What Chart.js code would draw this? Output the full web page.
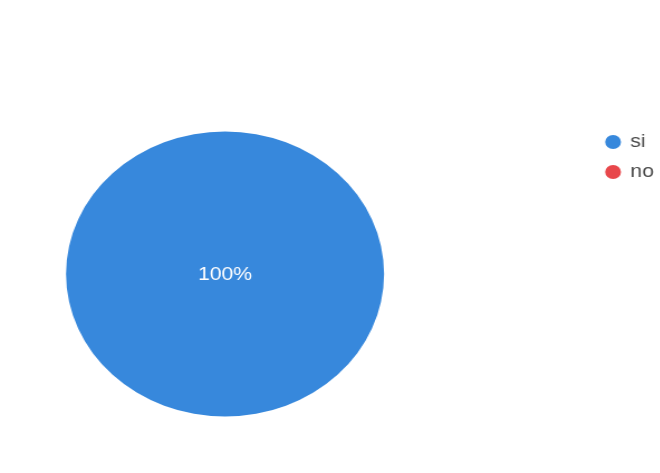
<!DOCTYPE html>
<html>
<head>
<meta charset="utf-8">
<script src="https://cdn.jsdelivr.net/npm/chart.js@4.4.1/dist/chart.umd.min.js"></script>
<style>
  html, body { margin: 0; padding: 0; background: #ffffff; overflow: hidden; }
  body { width: 660px; height: 473px; position: relative; }
  /* the scanned pie is a little wider than tall, so stretch the canvas sideways */
  #wrap {
    position: absolute; left: -144.5px; top: 0;
    width: 730px; height: 473px;
    transform: scaleX(1.116); transform-origin: 0 0;
  }
</style>
</head>
<body>
<div id="wrap"><canvas id="respuestas"></canvas></div>
<script>
// Datos
const etiquetas = ['si', 'no'];
const valores = [100, 0]; // porcentajes
const colores = ['#3788dc', '#e8474b'];

// Porcentaje dentro de cada porcion (100% va al centro)
const etiquetaPorcentaje = {
  id: 'etiquetaPorcentaje',
  afterDatasetsDraw(chart) {
    const ctx = chart.ctx;
    const meta = chart.getDatasetMeta(0);
    const total = valores.reduce((a, b) => a + b, 0);
    ctx.save();
    ctx.fillStyle = '#ffffff';
    ctx.font = '19px "Liberation Sans", Arial, sans-serif';
    ctx.textAlign = 'center';
    ctx.textBaseline = 'middle';
    meta.data.forEach((arco, i) => {
      const v = valores[i];
      if (!v) return;
      const pct = Math.round(v / total * 100);
      let pos = arco.tooltipPosition();
      if (pct === 100) pos = { x: arco.x, y: arco.y };
      ctx.fillText(pct + '%', pos.x, pos.y + 1);
    });
    ctx.restore();
  }
};

const ctx = document.getElementById('respuestas').getContext('2d');
const grafico = new Chart(ctx, {
  type: 'pie',
  data: {
    labels: etiquetas,
    datasets: [{
      data: valores,
      backgroundColor: colores,
      borderWidth: 0,
      radius: 142.5
    }]
  },
  options: {
    responsive: true,
    maintainAspectRatio: false,
    animation: false,
    layout: {
      padding: { left: 0, right: 5, top: 121.5, bottom: 46.5 }
    },
    plugins: {
      legend: {
        position: 'right',
        align: 'start',
        labels: {
          usePointStyle: true,
          pointStyle: 'circle',
          boxWidth: 12,
          boxHeight: 10,
          padding: 11,
          color: '#4a4a4a',
          font: { family: '"Liberation Sans", Arial, sans-serif', size: 19 }
        }
      },
      tooltip: { enabled: false }
    }
  },
  plugins: [etiquetaPorcentaje]
});
</script>
</body>
</html>
